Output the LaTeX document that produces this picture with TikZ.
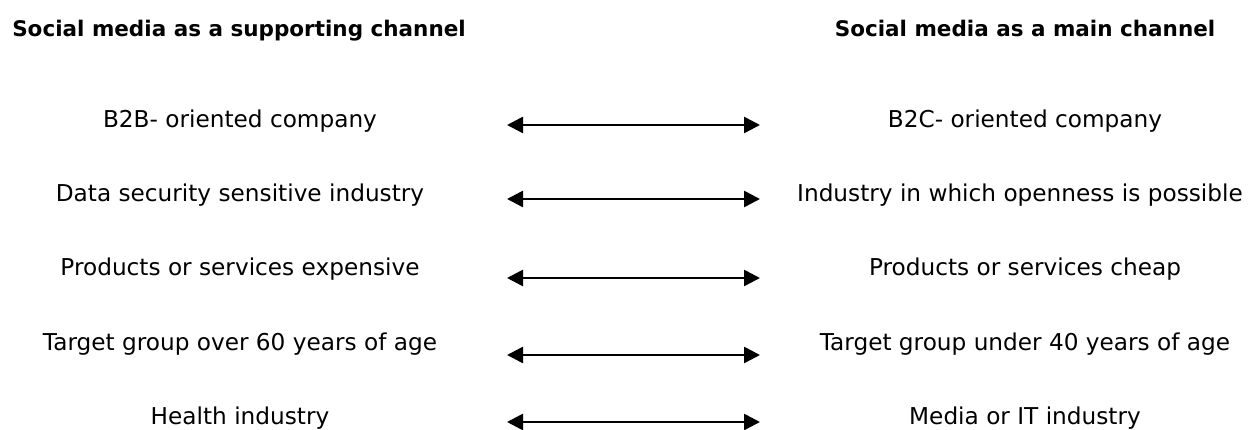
\documentclass[tikz,border=0pt]{standalone}
\usepackage{fontspec}
\setmainfont{DejaVu Sans}
\usetikzlibrary{arrows.meta}
\begin{document}
\begin{tikzpicture}[x=1pt,y=1pt,
  title/.style={anchor=base,inner sep=0pt,font=\fontsize{21.5}{24}\selectfont\bfseries},
  item/.style={anchor=base,inner sep=0pt,font=\fontsize{23.2}{26}\selectfont},
  link/.style={line width=2.6pt,{Triangle[length=16pt,width=16pt]}-{Triangle[length=16pt,width=16pt]}}]
\useasboundingbox (0,0) rectangle (1253,430);
\node[title] (tl) at (239,430-37) {Social media as a supporting channel};
\node[title] (tr) at (1025,430-37) {Social media as a main channel};
\node[item] (l1) at (240,430-128) {B2B- oriented company};
\node[item] (l2) at (240,430-202) {Data security sensitive industry};
\node[item] (l3) at (240,430-276) {Products or services expensive};
\node[item] (l4) at (240,430-351) {Target group over 60 years of age};
\node[item] (l5) at (240,430-425) {Health industry};
\node[item] (r1) at (1025,430-128) {B2C- oriented company};
\node[item] (r2) at (1020,430-202) {Industry in which openness is possible};
\node[item] (r3) at (1025,430-276) {Products or services cheap};
\node[item] (r4) at (1025,430-351) {Target group under 40 years of age};
\node[item] (r5) at (1025,430-425) {Media or IT industry};
\coordinate (a1) at (507,430-125); \coordinate (b1) at (760,430-125);
\coordinate (a2) at (507,430-199); \coordinate (b2) at (760,430-199);
\coordinate (a3) at (507,430-278); \coordinate (b3) at (760,430-278);
\coordinate (a4) at (507,430-355); \coordinate (b4) at (760,430-355);
\coordinate (a5) at (507,430-422); \coordinate (b5) at (760,430-422);
\foreach \i in {1,...,5} {\draw[link] (a\i) -- (b\i);}
\end{tikzpicture}
\end{document}
